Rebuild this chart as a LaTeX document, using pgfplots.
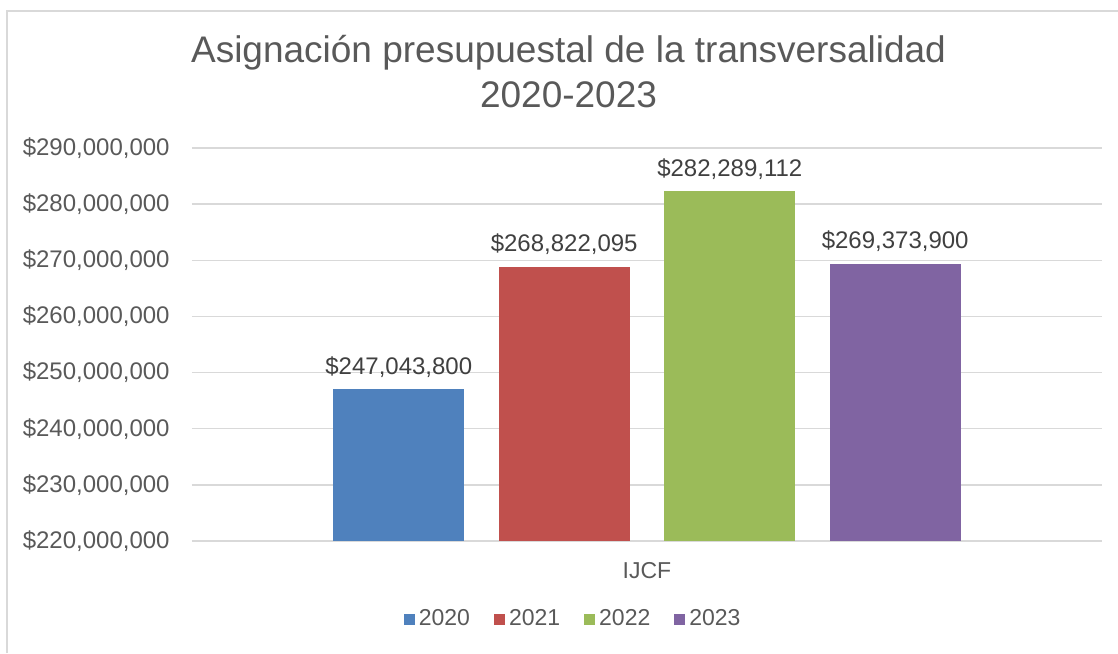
\documentclass[border=0pt]{standalone}
\usepackage{fontspec}
\setmainfont{Liberation Sans}
\usepackage{pgfplots}
\pgfplotsset{compat=1.18}
\definecolor{cBlue}{HTML}{4F81BD}
\definecolor{cRed}{HTML}{C0504D}
\definecolor{cGreen}{HTML}{9BBB59}
\definecolor{cPurple}{HTML}{8064A2}
\definecolor{txt}{HTML}{595959}
\definecolor{grd}{HTML}{D9D9D9}
\begin{document}
\begin{tikzpicture}
\useasboundingbox (0,0) rectangle (559pt,326.5pt);
\draw[grd, line width=1pt] (3.5pt,0) -- (3.5pt,321pt) -- (559pt,321pt);
\begin{axis}[
  at={(96pt,56pt)}, anchor=south west,
  scale only axis, width=455pt, height=196.5pt,
  xmin=-1, xmax=1, ymin=220000000, ymax=290000000,
  ybar, bar width=65.5pt,
  axis lines*=left,
  y axis line style={draw=none},
  x axis line style={draw=grd, line width=0.75pt},
  major tick length=0pt,
  ymajorgrids, major grid style={grd, line width=0.75pt},
  ytick={220000000,230000000,240000000,250000000,260000000,270000000,280000000,290000000},
  yticklabels={{\$220,000,000},{\$230,000,000},{\$240,000,000},{\$250,000,000},{\$260,000,000},{\$270,000,000},{\$280,000,000},{\$290,000,000}},
  yticklabel style={anchor=east, inner sep=0pt, xshift=-11pt, font=\fontsize{12pt}{14pt}\selectfont, text=txt},
  xtick={0}, xticklabels={IJCF},
  xticklabel style={anchor=base, inner sep=0pt, yshift=-18.5pt, font=\fontsize{11.5pt}{14pt}\selectfont, text=txt},
  scaled y ticks=false,
  nodes near coords,
  point meta=explicit symbolic,
  every node near coord/.append style={anchor=base, inner sep=0pt, yshift=7.5pt, font=\fontsize{12pt}{14pt}\selectfont, text=black!75},
  legend columns=4,
  legend style={at={(0.42,-0.1985)}, anchor=center, draw=none, fill=none,
    font=\fontsize{11.5pt}{13pt}\selectfont, text=txt,
    /tikz/every even column/.append style={column sep=10pt}},
  legend image code/.code={\fill[#1] (0pt,-2.75pt) rectangle (5.5pt,2.75pt);},
]
\addplot[fill=cBlue, draw=none, bar shift=-124.1pt] coordinates {(0,247043800) [\$247,043,800]};
\addplot[fill=cRed, draw=none, bar shift=-41.4pt] coordinates {(0,268822095) [\$268,822,095]};
\addplot[fill=cGreen, draw=none, bar shift=41.4pt] coordinates {(0,282289112) [\$282,289,112]};
\addplot[fill=cPurple, draw=none, bar shift=124.1pt] coordinates {(0,269373900) [\$269,373,900]};
\legend{2020,2021,2022,2023}
\end{axis}
\node[anchor=base, text=txt, font=\fontsize{18.5pt}{22pt}\selectfont] at (284.25pt,295pt) {Asignación presupuestal de la transversalidad};
\node[anchor=base, text=txt, font=\fontsize{18.5pt}{22pt}\selectfont] at (284.25pt,272.5pt) {2020-2023};
\end{tikzpicture}
\end{document}
